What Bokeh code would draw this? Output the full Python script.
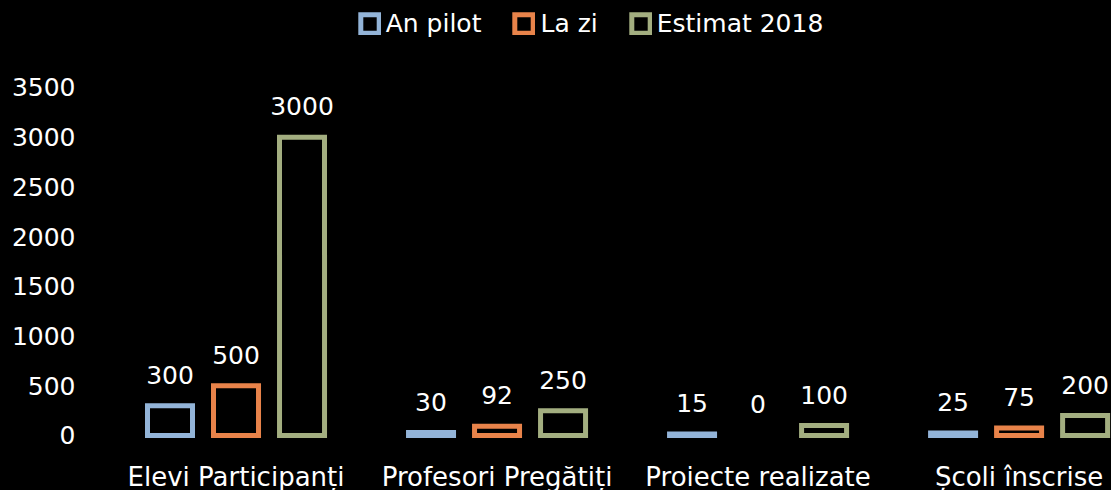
from bokeh.plotting import figure
from bokeh.models import ColumnDataSource, Range1d, FixedTicker, Legend, LegendItem
from bokeh.transform import dodge
from bokeh.core.properties import value
from bokeh.embed import file_html
from bokeh.resources import INLINE

categories = ["Elevi Participanți", "Profesori Pregătiți", "Proiecte realizate", "Școli înscrise"]
series_names = ["An pilot", "La zi", "Estimat 2018"]
an_pilot = [300, 30, 15, 25]
la_zi = [500, 92, 0, 75]
estimat_2018 = [3000, 250, 100, 200]
y_ticks = [0, 500, 1000, 1500, 2000, 2500, 3000, 3500]

colors = ["#93B4D8", "#E8834A", "#A3AE80"]
FONT = "DejaVu Sans"

p = figure(width=1111, height=490, output_backend="svg", toolbar_location=None,
           x_range=Range1d(0, 3.854), y_range=Range1d(-553.2, 4375),
           background_fill_color="black", border_fill_color="black",
           outline_line_color=None, outline_line_alpha=0,
           min_border_left=105, min_border_right=0, min_border_top=0, min_border_bottom=0)
p.styles = {"background-color": "black"}

p.xaxis.visible = False
p.grid.visible = False
yax = p.yaxis[0]
yax.ticker = FixedTicker(ticks=y_ticks)
yax.axis_line_color = None
yax.major_tick_line_color = None
yax.minor_tick_line_color = None
yax.major_tick_out = 0
yax.major_tick_in = 0
yax.major_label_standoff = 30
yax.major_label_text_color = "white"
yax.major_label_text_font = FONT
yax.major_label_text_font_size = "25px"

xs = [i + 0.5 for i in range(len(categories))]
offsets = [-0.2529, 0.0, 0.2529]
bar_w = 0.1724
items = []
for name, vals, col, off in zip(series_names, [an_pilot, la_zi, estimat_2018], colors, offsets):
    src = ColumnDataSource(dict(
        x=xs, top=vals, cat=categories,
        lbl=[str(v) for v in vals],
        la=[0.0 if v == 0 else 1.0 for v in vals],
    ))
    r = p.vbar(x=dodge("x", off, range=p.x_range), top="top", bottom=0, width=bar_w,
               source=src, fill_color="black", line_color=col, line_width=5,
               line_alpha="la", line_join="miter")
    p.text(x=dodge("x", off, range=p.x_range), y="top", text="lbl", source=src,
           text_color="white", text_font=value(FONT), text_font_size="25px",
           text_align="center", text_baseline="alphabetic", y_offset=-31)
    items.append(LegendItem(label=name, renderers=[r], index=0))

cat_src = ColumnDataSource(dict(x=xs, y=[0] * len(xs), t=categories))
p.text(x="x", y="y", text="t", source=cat_src, text_color="white",
       text_font=value(FONT), text_font_size="26px", text_align="center",
       text_baseline="alphabetic", y_offset=42)

legend = Legend(items=items, orientation="horizontal", location=(252.7, 452.5),
                background_fill_alpha=0, border_line_color=None,
                label_text_color="white", label_text_font=FONT, label_text_font_size="25px",
                glyph_width=23, glyph_height=23, label_height=23, label_standoff=5,
                spacing=31, padding=0, margin=0)
p.add_layout(legend, "center")

open("out.html", "w").write(file_html(p, INLINE))
